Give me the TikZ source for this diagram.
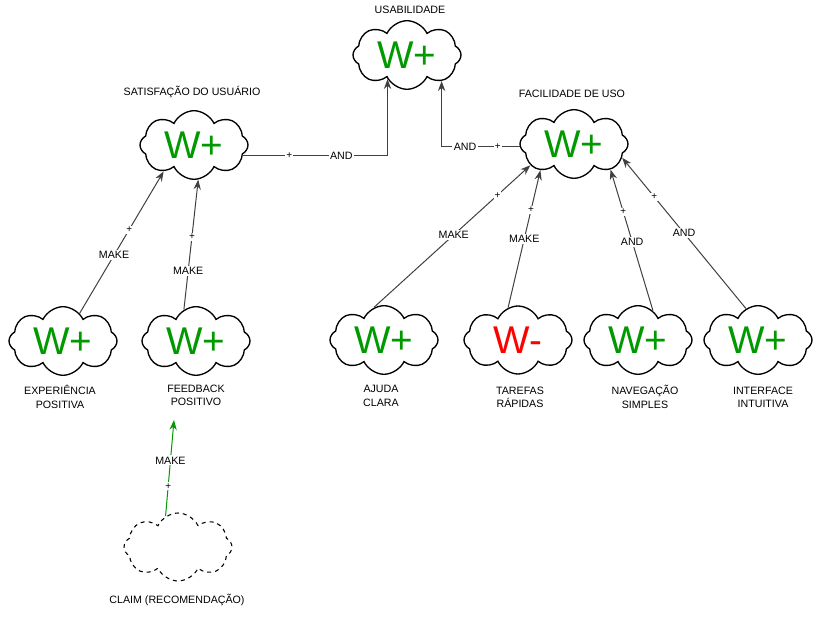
\documentclass[tikz,border=0pt]{standalone}
\usepackage{fontspec}
\setmainfont{Liberation Sans}
\usetikzlibrary{positioning, calc, shapes.symbols, arrows.meta}
\definecolor{wgreen}{HTML}{009900}
\definecolor{wred}{HTML}{FF0000}

\begin{document}
\begin{tikzpicture}[x=0.75pt, y=-0.75pt]
  \tikzstyle{softgoal}=[cloud, draw, line width=1pt, cloud puffs=8, cloud puff arc=130, aspect=1.6,
    minimum width=81pt, minimum height=51pt, inner sep=0pt, font=\fontsize{29}{29}\selectfont, text=wgreen]
  \tikzstyle{claim}=[softgoal, dashed, line width=0.8pt]
  \tikzstyle{title}=[align=center, font=\fontsize{8}{10}\selectfont, inner sep=0pt]
  \tikzstyle{link}=[draw=black!75, line width=0.75pt, -{Stealth[length=7.5pt, width=5.5pt]}]
  \tikzstyle{lbl}=[fill=white, inner sep=1pt, font=\fontsize{8}{9}\selectfont]
  \tikzstyle{plus}=[fill=white, inner sep=0.8pt, font=\fontsize{7.5}{8}\selectfont]
  \useasboundingbox (0,0) rectangle (819,634);

  % top goal
  \node (usab) at (407,55) [softgoal] {W+};
  \node (usablbl) at (410,10) [title] {USABILIDADE};

  % middle goals
  \node (sat) at (194,145) [softgoal] {W+};
  \node (satlbl) at (192,92) [title] {SATISFAÇÃO DO USUÁRIO};
  \node (fac) at (574,144) [softgoal] {W+};
  \node (faclbl) at (572,94) [title] {FACILIDADE DE USO};

  % leaf goals
  \node (exp) at (63,341) [softgoal] {W+};
  \node (explbl) at (60,397) [title] {EXPERIÊNCIA\\POSITIVA};
  \node (feed) at (196,341) [softgoal] {W+};
  \node (feedlbl) at (196,395) [title] {FEEDBACK\\POSITIVO};
  \node (ajuda) at (384,340) [softgoal] {W+};
  \node (ajudalbl) at (381,396) [title] {AJUDA\\CLARA};
  \node (tarefas) at (518,340) [softgoal, text=wred] {W-};
  \node (tarefaslbl) at (520,397) [title] {TAREFAS\\RÁPIDAS};
  \node (naveg) at (638,340) [softgoal] {W+};
  \node (naveglbl) at (645,397) [title] {NAVEGAÇÃO\\SIMPLES};
  \node (interf) at (758,340) [softgoal] {W+};
  \node (interflbl) at (763,397) [title] {INTERFACE\\INTUITIVA};

  % claim
  \node (claim) at (178,547) [claim] {};
  \node (claimlbl) at (177,600) [title] {CLAIM (RECOMENDAÇÃO)};
  \coordinate (claimtip) at (174,420);

  % contributions to the top goal
  \draw[link] (sat.-12) -| node[plus, pos=0.16] {+} node[lbl, pos=0.34] {AND} (usab.-129);
  \draw[link] (fac.183) -| node[plus, pos=0.14] {+} node[lbl, pos=0.35] {AND} (usab.-37);

  % contributions to the middle goals
  \draw[link] (exp.59) -- node[plus, pos=0.59] {+} node[lbl, pos=0.41] {MAKE} (sat.-139);
  \draw[link] (feed.111) -- node[plus, pos=0.56] {+} node[lbl, pos=0.30] {MAKE} (sat.-83);
  \draw[link] (ajuda.107) -- node[plus, pos=0.79] {+} node[lbl, pos=0.51] {MAKE} (fac.-154);
  \draw[link] (tarefas.107) -- node[plus, pos=0.71] {+} node[lbl, pos=0.50] {MAKE} (fac.-142);
  \draw[link] (naveg.63) -- node[plus, pos=0.70] {+} node[lbl, pos=0.49] {AND} (fac.-35);
  \draw[link] (interf.111) -- node[plus, pos=0.74] {+} node[lbl, pos=0.50] {AND} (fac.-16);

  % claim link
  \draw[link, draw=wgreen, -{Stealth[length=7.5pt, width=5.5pt, fill=wgreen]}] (claim.112) -- node[plus, pos=0.31] {+} node[lbl, pos=0.58] {MAKE} (claimtip);
\end{tikzpicture}
\end{document}
